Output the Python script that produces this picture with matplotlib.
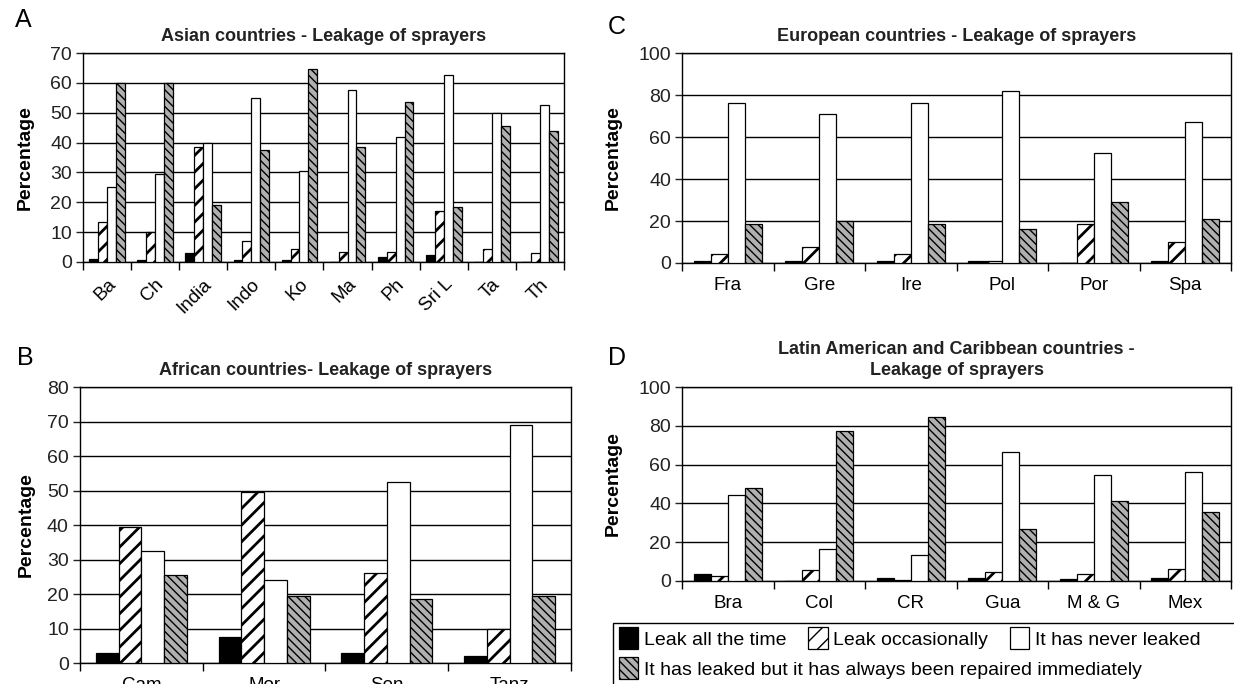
import numpy as np
import matplotlib
matplotlib.use("Agg")
import matplotlib.pyplot as plt
from matplotlib.patches import Rectangle

plt.rcParams['font.family'] = ['Liberation Sans', 'DejaVu Sans']
plt.rcParams['hatch.linewidth'] = 1.0

series_names = ["Leak all the time", "Leak occasionally", "It has never leaked",
                "It has leaked but it has always been repaired immediately"]

# A - Asian countries
asia_cats = ["Ba", "Ch", "India", "Indo", "Ko", "Ma", "Ph", "Sri L", "Ta", "Th"]
asia_all = [1, 0.5, 3, 0.5, 0.5, 0, 1.8, 2.5, 0, 0]
asia_occ = [13.5, 10, 38.5, 7, 4.5, 3.5, 3.5, 17, 4.5, 3]
asia_never = [25, 29.5, 40, 55, 30.5, 57.5, 42, 62.5, 50, 52.5]
asia_rep = [60, 60, 19, 37.5, 64.5, 38.5, 53.5, 18.5, 45.5, 44]

# B - African countries
africa_cats = ["Cam", "Mor", "Sen", "Tanz"]
africa_all = [3, 7.5, 3, 2]
africa_occ = [39.5, 49.5, 26, 10]
africa_never = [32.5, 24, 52.5, 69]
africa_rep = [25.5, 19.5, 18.5, 19.5]

# C - European countries
europe_cats = ["Fra", "Gre", "Ire", "Pol", "Por", "Spa"]
europe_all = [1, 1, 1, 0.8, 0, 1]
europe_occ = [4.5, 7.5, 4.5, 0.8, 18.5, 10]
europe_never = [76, 71, 76, 82, 52.5, 67]
europe_rep = [18.5, 20, 18.5, 16, 29, 21]

# D - Latin American and Caribbean countries
latam_cats = ["Bra", "Col", "CR", "Gua", "M & G", "Mex"]
latam_all = [3.5, 0, 1.5, 1.5, 1, 1.5]
latam_occ = [2.5, 5.5, 0.7, 4.5, 3.5, 6]
latam_never = [44.5, 16.5, 13.5, 66.5, 54.5, 56]
latam_rep = [48, 77.5, 84.5, 27, 41, 35.5]

styles = [
    dict(facecolor='black', hatch=None),
    dict(facecolor='white', hatch='//'),
    dict(facecolor='white', hatch=None),
    dict(facecolor='#b0b0b0', hatch='\\\\\\\\'),
]


def panel(ax, cats, values, ymax, ystep, title, rotate=False, ylpad=12):
    n = len(cats)
    x = np.arange(n)
    w = 0.185
    handles = []
    for i, (vals, st) in enumerate(zip(values, styles)):
        bars = ax.bar(x + (i - 1.5) * w, vals, w, facecolor=st['facecolor'],
                      edgecolor='black', linewidth=0.9, hatch=st['hatch'], zorder=3)
        if i == 1:
            for b in bars:
                try:
                    b.set_hatch_linewidth(2.0)
                except AttributeError:
                    pass
        handles.append(bars)
    ax.set_xlim(-0.5, n - 0.5)
    ax.set_ylim(0, ymax)
    ax.set_yticks(range(0, ymax + 1, ystep))
    ax.yaxis.grid(True, color='black', linewidth=1.0, zorder=1)
    ax.set_axisbelow(True)
    ax.set_xticks(np.arange(n + 1) - 0.5)
    ax.set_xticklabels([])
    ax.set_xticks(x, minor=True)
    if rotate:
        ax.set_xticklabels(cats, minor=True, rotation=45, ha='right',
                           rotation_mode='anchor', fontsize=13.5)
    else:
        ax.set_xticklabels(cats, minor=True, fontsize=13.5)
    ax.tick_params(axis='x', which='major', length=6, direction='out', width=1)
    ax.tick_params(axis='x', which='minor', length=0, pad=10)
    ax.tick_params(axis='y', length=5, width=1, labelsize=14, pad=3, colors='#222222')
    for s in ax.spines.values():
        s.set_linewidth(1.0)
    ax.set_ylabel("Percentage", fontsize=14, fontweight='bold', labelpad=ylpad)
    ax.set_title(title, fontsize=13, fontweight='bold', pad=9, color='#222222',
                 linespacing=1.3)
    return handles


fig = plt.figure(figsize=(12.34, 6.84), dpi=100)

axA = fig.add_axes([0.0673, 0.617, 0.3897, 0.3055])
axB = fig.add_axes([0.0648, 0.0307, 0.3979, 0.4035])
axC = fig.add_axes([0.5527, 0.6155, 0.4449, 0.307])
axD = fig.add_axes([0.5527, 0.1506, 0.4449, 0.2836])

panel(axA, asia_cats, [asia_all, asia_occ, asia_never, asia_rep], 70, 10,
      "Asian countries - Leakage of sprayers", rotate=True, ylpad=12)
panel(axB, africa_cats, [africa_all, africa_occ, africa_never, africa_rep], 80, 10,
      "African countries- Leakage of sprayers", ylpad=9)
panel(axC, europe_cats, [europe_all, europe_occ, europe_never, europe_rep], 100, 20,
      "European countries - Leakage of sprayers", ylpad=12)
handles = panel(axD, latam_cats, [latam_all, latam_occ, latam_never, latam_rep], 100, 20,
                "Latin American and Caribbean countries -\nLeakage of sprayers", ylpad=12)

for letter, (lx, ly) in zip("ABCD", [(15, 20), (17, 358), (608, 27), (608, 358)]):
    fig.text(lx / 1234, 1 - ly / 684, letter, fontsize=18, ha='left', va='center')

# legend box under panel D
fig.patches.append(Rectangle((613 / 1234, -0.01), 0.6, 1 - 623 / 684 + 0.01,
                             transform=fig.transFigure, facecolor='white',
                             edgecolor='black', linewidth=1.0, zorder=5))
leg1 = fig.legend([h[0] for h in handles[:3]], series_names[:3], ncol=3,
                  loc='center left', bbox_to_anchor=(619 / 1234, 1 - 638 / 684),
                  frameon=False, fontsize=14, handlelength=1.0, handleheight=1.3,
                  handletextpad=0.3, columnspacing=1.1, borderaxespad=0, borderpad=0)
leg2 = fig.legend([handles[3][0]], series_names[3:], loc='center left',
                  bbox_to_anchor=(619 / 1234, 1 - 668 / 684), frameon=False,
                  fontsize=14, handlelength=1.0, handleheight=1.3,
                  handletextpad=0.3, borderaxespad=0, borderpad=0)
leg1.set_zorder(6)
leg2.set_zorder(6)

fig.savefig("out.png", dpi=100)
